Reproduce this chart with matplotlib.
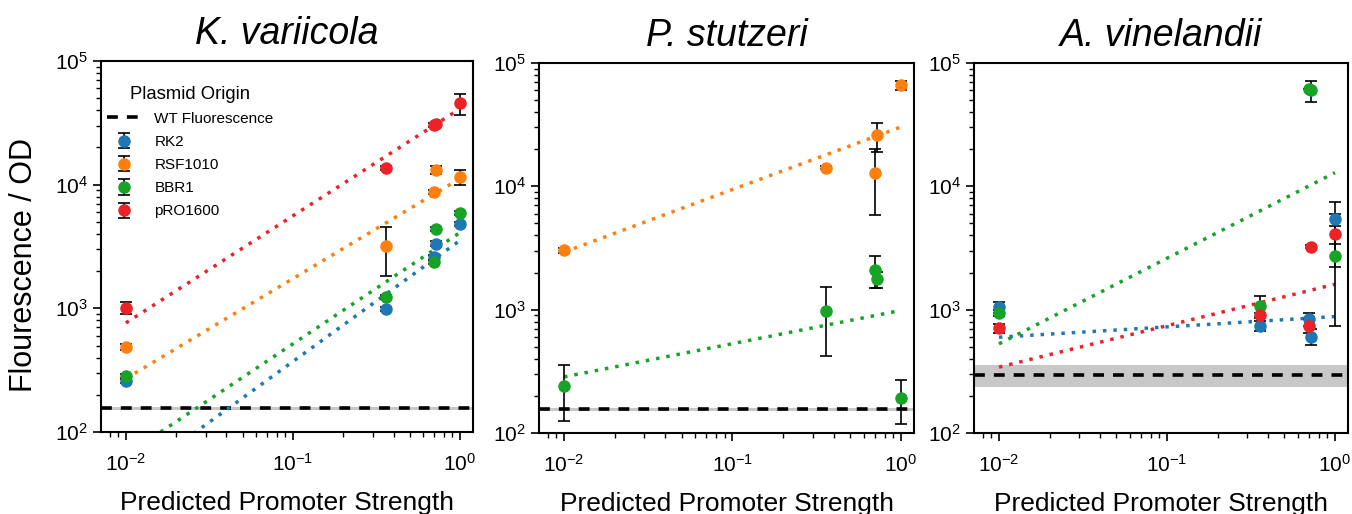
import numpy as np
import matplotlib
matplotlib.use("Agg")
import matplotlib.pyplot as plt

# promoter strengths (x) shared by all strains
STRENGTH = [0.01, 0.36, 0.70, 0.72, 1.0]
FIT_X = [0.01, 1.0]
ORIGINS = ["RK2", "RSF1010", "BBR1", "pRO1600"]

# K. variicola
KV_MEAN = {
    "RK2":     [257, 988, 2580, 3340, 4820],
    "RSF1010": [488, 3180, 8750, 13100, 11600],
    "BBR1":    [284, 1240, 2380, 4360, 5920],
    "pRO1600": [1010, 13600, 30500, 31000, 45400],
}
KV_ERR = {
    "RK2":     [10, 40, 100, 150, 200],
    "RSF1010": [25, 1350, 300, 1000, 1600],
    "BBR1":    [10, 50, 100, 150, 250],
    "pRO1600": [105, 500, 1000, 1000, 9000],
}
KV_FIT = {
    "RK2":     [39, 3540],
    "RSF1010": [270, 11200],
    "BBR1":    [65, 4100],
    "pRO1600": [762, 41100],
}

# P. stutzeri
PS_MEAN = {
    "RSF1010": [3030, 14200, 12900, 25900, 65900],
    "BBR1":    [239, 968, 2110, 1760, 193],
}
PS_ERR = {
    "RSF1010": [150, 300, 7000, 7000, 6000],
    "BBR1":    [115, 550, 600, 250, 75],
}
PS_FIT = {
    "RSF1010": [2930, 30300],
    "BBR1":    [285, 986],
}

# A. vinelandii
AV_MEAN = {
    "RK2":     [1047, 741, 834, 603, 5430],
    "BBR1":    [935, 1076, 62000, 60000, 2740],
    "pRO1600": [708, 904, 740, 3240, 4100],
}
AV_ERR = {
    "RK2":     [110, 70, 100, 90, 2000],
    "BBR1":    [50, 215, 0, 12000, 2000],
    "pRO1600": [60, 40, 95, 100, 1900],
}
AV_FIT = {
    "RK2":     [598, 879],
    "BBR1":    [528, 12900],
    "pRO1600": [342, 1607],
}

TITLES = ["K. variicola", "P. stutzeri", "A. vinelandii"]
WT_LEVEL = [156, 156, 297]
WT_SD = [4, 4, 62]

COLORS = {"RK2": "#1f77b4", "RSF1010": "#ff7f0e", "BBR1": "#17a325", "pRO1600": "#ec2227"}

plt.rcParams["font.family"] = ["Liberation Sans", "DejaVu Sans"]
plt.rcParams["mathtext.fontset"] = "custom"
plt.rcParams["mathtext.rm"] = "Liberation Sans"
plt.rcParams["mathtext.it"] = "Liberation Sans:italic"
plt.rcParams["mathtext.bf"] = "Liberation Sans:bold"

fig = plt.figure(figsize=(13.52, 5.14), dpi=100)
W, H = 1352, 514
boxes = [(101, 61, 473, 432), (539, 63, 914, 433), (974, 63, 1348, 433)]
panels = [(KV_MEAN, KV_ERR, KV_FIT), (PS_MEAN, PS_ERR, PS_FIT), (AV_MEAN, AV_ERR, AV_FIT)]

for i, ((l, t, r, b), (means, errs, fits)) in enumerate(zip(boxes, panels)):
    ax = fig.add_axes([l / W, 1 - b / H, (r - l) / W, (b - t) / H])
    ax.set_xscale("log")
    ax.set_yscale("log")

    wt = WT_LEVEL[i]
    ax.axhspan(wt - WT_SD[i], wt + WT_SD[i], color="#c8c8c8", lw=0, zorder=1)
    ax.axhline(wt, color="k", ls=(0, (3, 2.5)), lw=2.6, zorder=2, label="WT Fluorescence")

    for name in ORIGINS:
        if name not in means:
            continue
        c = COLORS[name]
        ax.plot(FIT_X, fits[name], color=c, ls=(0, (1, 2)), lw=2.5, zorder=2.5)
        ax.errorbar(STRENGTH, means[name], yerr=errs[name], fmt="o", color=c,
                    ms=8, ecolor="k", elinewidth=1.2, capsize=4,
                    capthick=1.2, zorder=3, label=name)

    ax.set_xlim(0.0071, 1.196)
    ax.set_ylim(100, 1e5)
    ax.set_title(TITLES[i], fontsize=27, style="italic", pad=12)
    ax.set_xlabel("Predicted Promoter Strength", fontsize=19, labelpad=12)
    ax.tick_params(which="major", direction="out", length=6, width=1.2, labelsize=15)
    ax.tick_params(which="minor", direction="out", length=3.5, width=1.0)
    ax.tick_params(axis="x", which="major", pad=9)
    for s in ax.spines.values():
        s.set_linewidth(1.5)

    if i == 0:
        ax.set_ylabel("Flourescence / OD", fontsize=22)
        ax.yaxis.set_label_coords(-0.167, 0.45)
        ax.legend(loc="upper left", bbox_to_anchor=(0.0, 0.95), frameon=False,
                  title="Plasmid Origin", title_fontsize=13.3, fontsize=11,
                  handlelength=2.2, handletextpad=0.9, labelspacing=0.6,
                  borderaxespad=0)

fig.savefig("out.png", dpi=100)
